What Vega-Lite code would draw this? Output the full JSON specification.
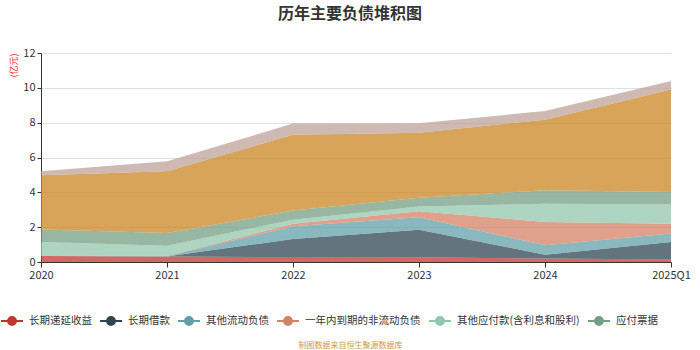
{
  "$schema": "https://vega.github.io/schema/vega-lite/v6.json",
  "width": 630,
  "height": 209,
  "autosize": {"type": "none"},
  "padding": {"left": 41, "top": 53, "right": 29, "bottom": 88},
  "background": "white",
  "config": {"font": "Noto Sans CJK SC", "view": {"stroke": null}},
  "title": {"text": "历年主要负债堆积图", "fontSize": 16, "fontWeight": "bold", "color": "#333333", "anchor": "middle", "offset": 25, "dx": -6},
  "data": {"values": [
    {"year": "2020", "item": "长期递延收益", "ord": 1, "value": 0.35},
    {"year": "2021", "item": "长期递延收益", "ord": 1, "value": 0.32},
    {"year": "2022", "item": "长期递延收益", "ord": 1, "value": 0.28},
    {"year": "2023", "item": "长期递延收益", "ord": 1, "value": 0.27},
    {"year": "2024", "item": "长期递延收益", "ord": 1, "value": 0.2},
    {"year": "2025Q1", "item": "长期递延收益", "ord": 1, "value": 0.15},
    {"year": "2020", "item": "长期借款", "ord": 2, "value": 0},
    {"year": "2021", "item": "长期借款", "ord": 2, "value": 0},
    {"year": "2022", "item": "长期借款", "ord": 2, "value": 1.04},
    {"year": "2023", "item": "长期借款", "ord": 2, "value": 1.58},
    {"year": "2024", "item": "长期借款", "ord": 2, "value": 0.22},
    {"year": "2025Q1", "item": "长期借款", "ord": 2, "value": 1.0},
    {"year": "2020", "item": "其他流动负债", "ord": 3, "value": 0},
    {"year": "2021", "item": "其他流动负债", "ord": 3, "value": 0.02},
    {"year": "2022", "item": "其他流动负债", "ord": 3, "value": 0.73},
    {"year": "2023", "item": "其他流动负债", "ord": 3, "value": 0.72},
    {"year": "2024", "item": "其他流动负债", "ord": 3, "value": 0.54},
    {"year": "2025Q1", "item": "其他流动负债", "ord": 3, "value": 0.48},
    {"year": "2020", "item": "一年内到期的非流动负债", "ord": 4, "value": 0},
    {"year": "2021", "item": "一年内到期的非流动负债", "ord": 4, "value": 0.02},
    {"year": "2022", "item": "一年内到期的非流动负债", "ord": 4, "value": 0.14},
    {"year": "2023", "item": "一年内到期的非流动负债", "ord": 4, "value": 0.35},
    {"year": "2024", "item": "一年内到期的非流动负债", "ord": 4, "value": 1.34},
    {"year": "2025Q1", "item": "一年内到期的非流动负债", "ord": 4, "value": 0.57},
    {"year": "2020", "item": "其他应付款(含利息和股利)", "ord": 5, "value": 0.8},
    {"year": "2021", "item": "其他应付款(含利息和股利)", "ord": 5, "value": 0.58},
    {"year": "2022", "item": "其他应付款(含利息和股利)", "ord": 5, "value": 0.24},
    {"year": "2023", "item": "其他应付款(含利息和股利)", "ord": 5, "value": 0.27},
    {"year": "2024", "item": "其他应付款(含利息和股利)", "ord": 5, "value": 1.05},
    {"year": "2025Q1", "item": "其他应付款(含利息和股利)", "ord": 5, "value": 1.1},
    {"year": "2020", "item": "应付票据", "ord": 6, "value": 0.71},
    {"year": "2021", "item": "应付票据", "ord": 6, "value": 0.73},
    {"year": "2022", "item": "应付票据", "ord": 6, "value": 0.52},
    {"year": "2023", "item": "应付票据", "ord": 6, "value": 0.5},
    {"year": "2024", "item": "应付票据", "ord": 6, "value": 0.77},
    {"year": "2025Q1", "item": "应付票据", "ord": 6, "value": 0.72},
    {"year": "2020", "item": "应付账款", "ord": 7, "value": 3.12},
    {"year": "2021", "item": "应付账款", "ord": 7, "value": 3.54},
    {"year": "2022", "item": "应付账款", "ord": 7, "value": 4.35},
    {"year": "2023", "item": "应付账款", "ord": 7, "value": 3.73},
    {"year": "2024", "item": "应付账款", "ord": 7, "value": 4.05},
    {"year": "2025Q1", "item": "应付账款", "ord": 7, "value": 5.88},
    {"year": "2020", "item": "合同负债", "ord": 8, "value": 0.23},
    {"year": "2021", "item": "合同负债", "ord": 8, "value": 0.57},
    {"year": "2022", "item": "合同负债", "ord": 8, "value": 0.65},
    {"year": "2023", "item": "合同负债", "ord": 8, "value": 0.55},
    {"year": "2024", "item": "合同负债", "ord": 8, "value": 0.5},
    {"year": "2025Q1", "item": "合同负债", "ord": 8, "value": 0.49}
  ]},
  "mark": {"type": "area", "opacity": 0.75, "interpolate": "linear"},
  "encoding": {
    "x": {
      "field": "year", "type": "ordinal",
      "sort": ["2020", "2021", "2022", "2023", "2024", "2025Q1"],
      "scale": {"type": "point", "padding": 0},
      "axis": {
        "title": "制图数据来自恒生聚源数据库", "titleFontSize": 8, "titleColor": "#d09b3a", "titleFontWeight": "normal",
        "titleX": 309, "titleY": 83, "titleBaseline": "middle", "titleAlign": "center",
        "labelAngle": 0, "labelFontSize": 11, "labelColor": "#333333", "labelPadding": 2,
        "domainColor": "#333333", "tickColor": "#333333", "tickSize": 5, "grid": false
      }
    },
    "y": {
      "field": "value", "type": "quantitative", "stack": "zero",
      "scale": {"domain": [0, 12]},
      "axis": {
        "title": "(亿元)", "titleFontSize": 9, "titleColor": "#ee3333", "titleFontWeight": "normal",
        "titleAngle": -90, "titleX": -28, "titleY": 0, "titleAlign": "right", "titleBaseline": "middle",
        "values": [0, 2, 4, 6, 8, 10, 12],
        "labelFontSize": 11, "labelColor": "#333333", "labelPadding": 2,
        "domainColor": "#333333", "tickColor": "#333333", "tickSize": 4,
        "gridColor": "#e0e0e0", "gridWidth": 1
      }
    },
    "color": {
      "field": "item", "type": "nominal",
      "scale": {
        "domain": ["长期递延收益", "长期借款", "其他流动负债", "一年内到期的非流动负债", "其他应付款(含利息和股利)", "应付票据", "应付账款", "合同负债"],
        "range": ["#c23531", "#2f4554", "#61a0a8", "#d48265", "#91c7ae", "#749f83", "#ca8622", "#bda29a"]
      },
      "legend": {
        "orient": "none", "legendX": -41, "legendY": 256, "direction": "horizontal", "title": null,
        "values": ["长期递延收益", "长期借款", "其他流动负债", "一年内到期的非流动负债", "其他应付款(含利息和股利)", "应付票据"],
        "symbolType": "M-1,0H1M-0.36,0A0.36,0.36 0 1,0 0.36,0A0.36,0.36 0 1,0 -0.36,0Z",
        "symbolSize": 484, "symbolStrokeWidth": 2, "symbolOpacity": 1,
        "labelFontSize": 10.5, "labelColor": "#333333", "labelOffset": 5, "columnPadding": 4, "labelLimit": 250,
        "encode": {"symbols": {"update": {
          "stroke": {"scale": "color", "field": "value"},
          "fill": {"scale": "color", "field": "value"},
          "opacity": {"value": 1}
        }}}
      }
    },
    "order": {"field": "ord", "type": "quantitative", "sort": "ascending"}
  }
}
